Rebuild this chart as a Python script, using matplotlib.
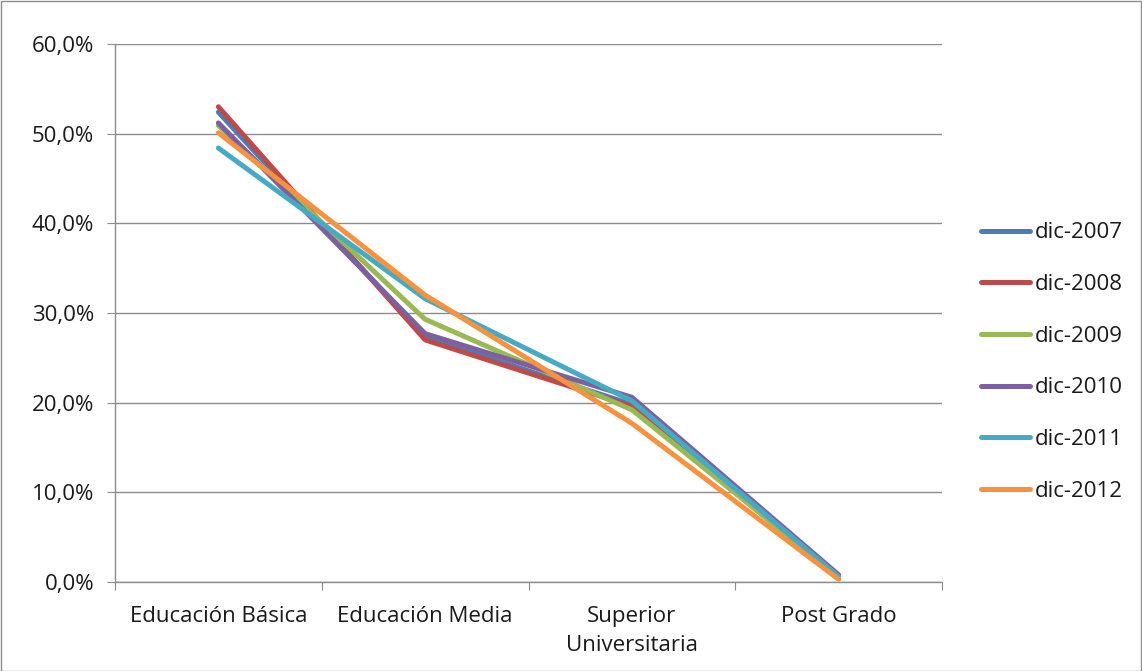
import matplotlib
matplotlib.use("Agg")
import matplotlib.pyplot as plt
from matplotlib.patches import Rectangle
from matplotlib.ticker import FuncFormatter, FixedLocator

categories = ["Educación Básica", "Educación Media", "Superior\nUniversitaria", "Post Grado"]
series_names = ["dic-2007", "dic-2008", "dic-2009", "dic-2010", "dic-2011", "dic-2012"]
dic_2007 = [52.4, 27.3, 19.8, 0.6]
dic_2008 = [53.0, 27.0, 19.6, 0.5]
dic_2009 = [50.9, 29.3, 19.2, 0.6]
dic_2010 = [51.2, 27.7, 20.6, 0.8]
dic_2011 = [48.4, 31.6, 20.2, 0.6]
dic_2012 = [50.1, 32.0, 17.7, 0.3]
series_values = [dic_2007, dic_2008, dic_2009, dic_2010, dic_2011, dic_2012]
colors = ["#4A7EBB", "#BE4B48", "#98B954", "#7D60A0", "#46AAC5", "#F69240"]

plt.rcParams["font.family"] = ["Open Sans", "DejaVu Sans"]
plt.rcParams["text.color"] = "#1A1A1A"

FS = 16
LW = 3.6

fig = plt.figure(figsize=(11.42, 6.71), dpi=100)
ax = fig.add_axes([115 / 1142, 1 - 582 / 671, (942 - 115) / 1142, (582 - 44) / 671])

x = list(range(len(categories)))
for name, vals, c in zip(series_names, series_values, colors):
    ax.plot(x, vals, color=c, lw=LW, label=name, solid_capstyle="round",
            solid_joinstyle="round", zorder=3)

ax.set_xlim(-0.5, len(categories) - 0.5)
ax.set_ylim(0, 60)
ax.set_yticks(range(0, 61, 10))
ax.yaxis.set_major_formatter(FuncFormatter(lambda v, p: f"{v:.1f}%".replace(".", ",")))
ax.grid(axis="y", color="#8C8C8C", lw=1.0, zorder=1)
ax.set_axisbelow(True)

ax.xaxis.set_major_locator(FixedLocator([i - 0.5 for i in range(len(categories) + 1)]))
ax.xaxis.set_minor_locator(FixedLocator(x))
ax.set_xticklabels([])
ax.set_xticklabels(categories, minor=True, linespacing=1.5)
ax.tick_params(axis="x", which="major", length=6, color="#8C8C8C", direction="out")
ax.tick_params(axis="x", which="minor", length=0, pad=17, labelsize=FS, labelcolor="#1A1A1A")
ax.tick_params(axis="y", length=6, color="#8C8C8C", direction="out", labelsize=FS,
               pad=9, labelcolor="#1A1A1A")

for s in ["top", "right"]:
    ax.spines[s].set_visible(False)
for s in ["left", "bottom"]:
    ax.spines[s].set_color("#8C8C8C")
    ax.spines[s].set_linewidth(1.0)

leg = fig.legend(loc="center left", bbox_to_anchor=(961 / 1142, 1 - 362 / 671),
                 frameon=False, fontsize=FS, handlelength=2.2, labelspacing=1.38,
                 handletextpad=0.22)
for h in leg.get_lines():
    h.set_linewidth(LW)
    h.set_solid_capstyle("round")

fig.patches.append(Rectangle((0.5 / 1142, 0.5 / 671), 1 - 1.5 / 1142, 1 - 1.5 / 671,
                             transform=fig.transFigure, fill=False,
                             edgecolor="#8C8C8C", lw=1.0))

fig.savefig("out.png", dpi=100)
